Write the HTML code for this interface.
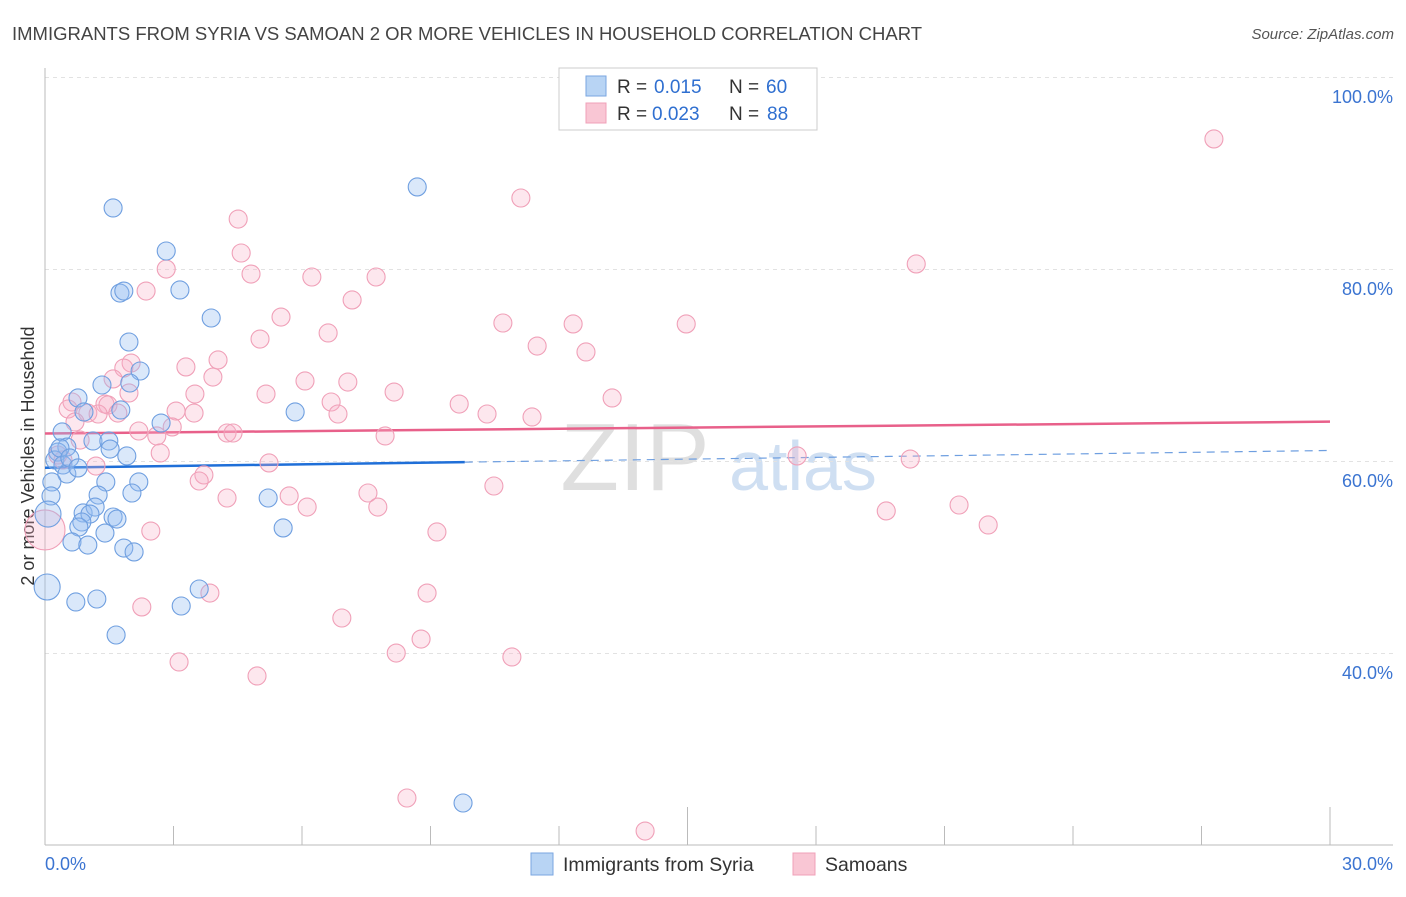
<!DOCTYPE html>
<html><head><meta charset="utf-8"><style>
body{margin:0;background:#fff;}
svg text{font-family:"Liberation Sans",sans-serif;}
</style></head><body>
<svg id="chart" width="1406" height="892" xmlns="http://www.w3.org/2000/svg">
<text x="12" y="40" font-size="18.5" fill="#444">IMMIGRANTS FROM SYRIA VS SAMOAN 2 OR MORE VEHICLES IN HOUSEHOLD CORRELATION CHART</text>
<text x="1394" y="39" font-size="15" fill="#555" text-anchor="end" font-style="italic">Source: ZipAtlas.com</text>
<text transform="translate(34,456) rotate(-90)" font-size="18" fill="#333" text-anchor="middle">2 or more Vehicles in Household</text>
<g>
<text x="635" y="490" font-size="96" fill="#d8d8d8" text-anchor="middle" font-family="Liberation Serif" opacity="0.8">ZIP</text>
<text x="803" y="490" font-size="70" fill="#c4d8f0" text-anchor="middle" opacity="0.8">atlas</text>
</g>
<g id="grid"></g><g id="axes"></g><g id="trends"></g><g id="pts"></g>
<g>
<rect x="559" y="68" width="258" height="62" fill="#fff" stroke="#ccc"/>
<rect x="586" y="76" width="20" height="20" fill="#b8d4f4" stroke="#7aa6e0"/>
<rect x="586" y="103" width="20" height="20" fill="#f9c6d4" stroke="#f0a0b8"/>
<text x="617" y="93" font-size="19" fill="#333">R =</text>
<text x="654" y="93" font-size="19" fill="#2f6fd0">0.015</text>
<text x="729" y="93" font-size="19" fill="#333">N =</text>
<text x="766" y="93" font-size="19" fill="#2f6fd0">60</text>
<text x="617" y="120" font-size="19" fill="#333">R =</text>
<text x="652" y="120" font-size="19" fill="#2f6fd0">0.023</text>
<text x="729" y="120" font-size="19" fill="#333">N =</text>
<text x="767" y="120" font-size="19" fill="#2f6fd0">88</text>
</g>
<g>
<rect x="531" y="853" width="22" height="22" fill="#b8d4f4" stroke="#7aa6e0"/>
<text x="563" y="871" font-size="19.5" fill="#333">Immigrants from Syria</text>
<rect x="793" y="853" width="22" height="22" fill="#f9c6d4" stroke="#f0a0b8"/>
<text x="825" y="871" font-size="19.5" fill="#333">Samoans</text>
</g>
</svg>
<script>
const xTicks=[0,3,6,9,12,15,18,21,24,27,30];
const yTicks=[40,60,80,100];
const yTickLabels=["40.0%","60.0%","80.0%","100.0%"];
const xEndLabels=["0.0%","30.0%"];
const syriaX=[1.59,2.83,8.69,1.75,1.84,3.15,3.88,1.96,2.22,1.33,1.98,0.77,1.77,0.91,5.84,2.71,0.40,1.12,1.49,0.51,1.52,0.30,0.23,1.91,0.42,0.51,0.16,1.42,2.19,0.14,1.24,2.03,5.21,0.07,0.89,1.17,1.05,1.59,1.68,0.86,0.79,1.40,5.56,0.63,1.00,1.84,2.08,0.05,3.60,0.72,1.21,3.18,1.66,9.76,0.35,0.58,0.77];
const syriaY=[86.46,81.98,88.65,77.60,77.81,77.92,75.0,72.5,69.48,68.02,68.23,66.67,65.42,65.21,65.21,64.06,63.13,62.19,62.19,61.56,61.35,61.04,60.21,60.63,59.69,58.75,57.92,57.92,57.92,56.46,56.56,56.77,56.25,54.58,54.69,55.31,54.58,54.27,54.06,53.75,53.23,52.60,53.13,51.67,51.35,51.04,50.63,46.98,46.77,45.42,45.73,45.0,41.98,24.48,61.46,60.42,59.38];
const syriaBig=[33,47];
const samoaX=[27.29,11.11,4.51,4.58,2.83,4.81,6.23,7.73,2.36,7.17,20.34,5.51,10.69,12.33,14.97,6.61,5.02,11.49,12.63,2.01,4.04,3.29,1.84,1.59,3.92,6.07,7.07,1.96,3.50,5.16,8.15,0.63,1.40,1.47,13.24,0.54,9.67,6.68,1.00,1.70,3.06,1.24,3.48,6.84,10.32,11.37,0.70,2.97,2.19,2.61,4.25,4.39,7.94,0.82,2.69,1.19,5.23,17.56,20.20,3.71,3.60,10.48,7.54,5.70,4.25,7.77,6.12,21.34,19.64,22.02,9.15,2.47,0.0,3.85,8.92,2.26,6.93,8.78,8.20,10.90,3.13,4.95,8.45,14.01,0.42,0.30];
const samoaY=[93.65,87.5,85.31,81.77,80.10,79.58,79.27,79.27,77.81,76.88,80.63,75.10,74.48,74.38,74.38,73.44,72.81,72.08,71.46,70.31,70.63,69.90,69.79,68.65,68.85,68.44,68.33,67.19,67.08,67.08,67.29,66.25,66.04,65.94,66.67,65.52,66.04,66.25,65.10,65.10,65.31,65.0,65.10,65.0,65.0,64.69,64.17,63.65,63.23,62.71,63.02,63.02,62.71,62.29,60.94,59.58,59.90,60.63,60.31,58.65,58.02,57.50,56.77,56.46,56.25,55.31,55.31,55.52,54.90,53.44,52.71,52.81,52.92,46.35,46.35,44.90,43.75,41.56,40.10,39.69,39.17,37.71,25.0,21.56,60.21,60.73];
const samoaBig=[72];
const syriaTrend=[59.4,61.2];
const samoaTrend=[62.97,64.2];
const syriaSolidEnd=9.8;

const X0=45,X1=1330,Y0=845;
function sx(v){return X0+(v-0)/30*(X1-X0);}
function sy(v){return 462-(v-60)*9.6;}
const NS="http://www.w3.org/2000/svg";
function mk(parent,tag,attrs){const e=document.createElementNS(NS,tag);for(const k in attrs)e.setAttribute(k,attrs[k]);document.getElementById(parent).appendChild(e);return e;}
yTicks.forEach((t,i)=>{
  const l=mk('grid','line',{x1:X0,x2:1393,y1:sy(t)-0.5,y2:sy(t)-0.5,stroke:'#e2e2e2','stroke-dasharray':'4,4'});
  
  
  const tx=mk('grid','text',{x:1393,y:sy(t)+25,'font-size':18,fill:'#3b74d1','text-anchor':'end'});
  tx.textContent=yTickLabels[i];
  
  
});
const ya=mk('axes','line',{x1:X0,x2:X0,y1:68,y2:Y0,stroke:'#bbb'});


const xa=mk('axes','line',{x1:X0,x2:1393,y1:Y0,y2:Y0,stroke:'#bbb'});


xTicks.forEach((t,i)=>{
  const long=(t===15||t===30);
  const l=mk('axes','line',{x1:sx(t),x2:sx(t),y1:long?807:826,y2:Y0,stroke:'#bbb'});
  
  
});
[[0,'start',X0],[1,'end',1393]].forEach(a=>{
  const tx=mk('axes','text',{x:a[2],y:870,'font-size':18,fill:'#3b74d1','text-anchor':a[1]});
  tx.textContent=xEndLabels[a[0]];
  
  
});
const midY=syriaTrend[0]+(syriaTrend[1]-syriaTrend[0])*syriaSolidEnd/30;
const sSolid=mk('trends','line',{x1:sx(0),y1:sy(syriaTrend[0]),x2:sx(syriaSolidEnd),y2:sy(midY),stroke:'#1f6fd8','stroke-width':2.5});


const sDash=mk('trends','line',{x1:sx(syriaSolidEnd),y1:sy(midY),x2:sx(30),y2:sy(syriaTrend[1]),stroke:'#6f9fe0','stroke-width':1.2,'stroke-dasharray':'8,6'});


const pLine=mk('trends','line',{x1:sx(0),y1:sy(samoaTrend[0]),x2:sx(30),y2:sy(samoaTrend[1]),stroke:'#e8608a','stroke-width':2.5});


samoaX.forEach((v,i)=>{
  const c=mk('pts','circle',{cx:sx(v),cy:sy(samoaY[i]),r:samoaBig.includes(i)?20:9,fill:'rgba(248,176,198,0.3)',stroke:'#f0a0b8','stroke-width':1.1});
  
  
});
syriaX.forEach((v,i)=>{
  const c=mk('pts','circle',{cx:sx(v),cy:sy(syriaY[i]),r:syriaBig.includes(i)?13:9,fill:'rgba(150,190,240,0.35)',stroke:'#6f9fe0','stroke-width':1.1});
  
  
});
</script>
</body></html>
